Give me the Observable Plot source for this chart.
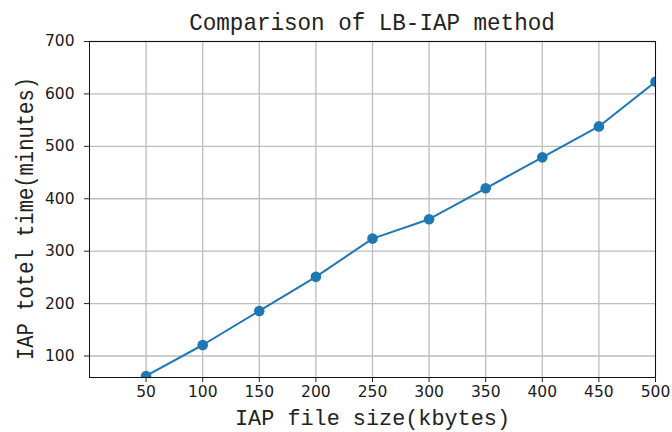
<!DOCTYPE html>
<html><head><meta charset="utf-8">
<script src="https://cdn.jsdelivr.net/npm/d3@7"></script>
<script src="https://cdn.jsdelivr.net/npm/@observablehq/plot@0.6"></script>
<style>
body{margin:0;background:#fff;}
#wrap{width:672px;height:432px;overflow:hidden;background:#fff;}
#title{position:relative;height:36px;width:672px;}
#title span{position:absolute;left:89px;width:566px;top:12px;text-align:center;font-family:"Liberation Mono",monospace;font-size:24px;line-height:24px;color:#222;transform:scaleX(0.94);white-space:nowrap;}
</style></head><body>
<div id="wrap"><div id="title"><span id="tt"></span></div><div id="chart"></div></div>
<script>
const titleText = "Comparison of LB-IAP method";
const xLabel = "IAP file size(kbytes)";
const yLabel = "IAP totel time(minutes)";
const fileSize = [50, 100, 150, 200, 250, 300, 350, 400, 450, 500];
const totalTime = [62, 121, 186, 251, 324, 361, 420, 479, 538, 623];
const xTicks = [50, 100, 150, 200, 250, 300, 350, 400, 450, 500];
const yTicks = [100, 200, 300, 400, 500, 600, 700];

document.getElementById("tt").textContent = titleText;
const data = fileSize.map((x, i) => ({x, y: totalTime[i]}));

const chart = Plot.plot({
  width: 672,
  height: 396,
  marginTop: 5,
  marginBottom: 55,
  marginLeft: 89,
  marginRight: 17,
  style: {fontFamily: "DejaVu Sans", fontSize: "15.5px", color: "#1a1a1a", background: "white", overflow: "visible"},
  x: {domain: [0, 500]},
  y: {domain: [59, 700]},
  marks: [
    Plot.ruleX(xTicks, {stroke: "#bdbdbd", strokeWidth: 1.3}),
    Plot.ruleY(yTicks, {stroke: "#bdbdbd", strokeWidth: 1.3}),
    Plot.line(data, {x: "x", y: "y", stroke: "#1f77b4", strokeWidth: 2, clip: true}),
    Plot.dot(data, {x: "x", y: "y", r: 5.3, fill: "#1f77b4", stroke: "none", clip: true}),
    Plot.frame({stroke: "#111", strokeWidth: 1}),
    Plot.axisX(xTicks, {tickSize: 5, tickPadding: 3, label: null, stroke: "#222"}),
    Plot.axisY(yTicks, {tickSize: 5, tickPadding: 10, label: null, stroke: "#222"}),
    Plot.text([xLabel], {text: d => d, frameAnchor: "bottom", textAnchor: "middle", dy: 40, lineAnchor: "middle", fontFamily: "Liberation Mono", fontSize: 22, fill: "#222"}),
    Plot.text([yLabel], {text: d => d, frameAnchor: "left", textAnchor: "middle", rotate: -90, dx: -64, dy: 9, lineAnchor: "middle", fontFamily: "Liberation Mono", fontSize: 24, fill: "#222"})
  ]
});
document.getElementById("chart").appendChild(chart);
for (const t of chart.querySelectorAll("text")) {
  if (t.textContent === xLabel) { t.setAttribute("textLength", 275); t.setAttribute("lengthAdjust", "spacingAndGlyphs"); }
  if (t.textContent === yLabel) { t.setAttribute("textLength", 283); t.setAttribute("lengthAdjust", "spacingAndGlyphs"); }
}
</script>
</body></html>
